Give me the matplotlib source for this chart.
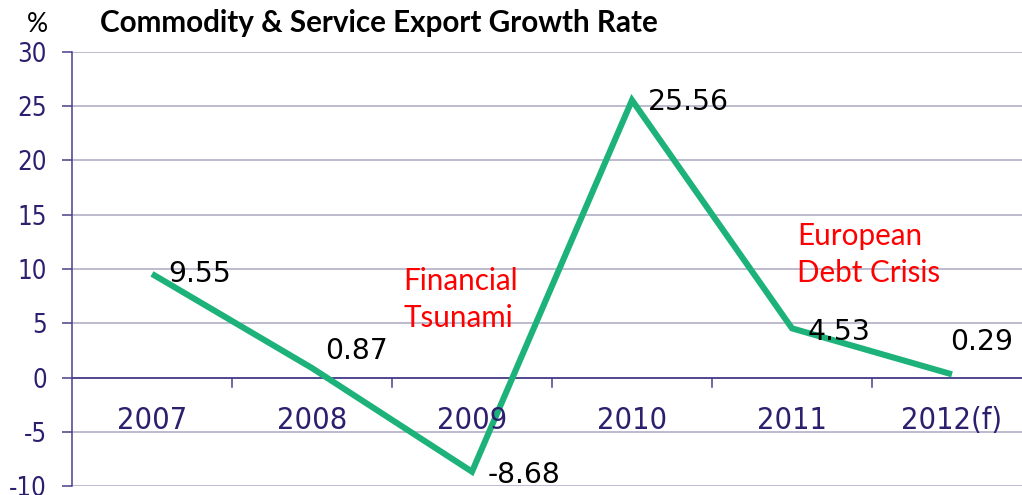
import matplotlib
matplotlib.use("Agg")
import matplotlib.pyplot as plt

years = ["2007", "2008", "2009", "2010", "2011", "2012(f)"]
growth = [9.55, 0.87, -8.68, 25.56, 4.53, 0.29]
value_labels = ["9.55", "0.87", "-8.68", "25.56", "4.53", "0.29"]
# label offsets from the point, in pixels
label_offsets = [(16, 0), (13, 17), (16, -3), (16, -2), (16, -4), (-2, 32)]

line_color = "#1DB27A"
tick_color = "#2E1F6E"
grid_color = "#B9B5CC"
axis_color = "#4A3F8A"
num_font = dict(family="DejaVu Sans", stretch="condensed")

W, H = 1022, 495
fig = plt.figure(figsize=(W / 100, H / 100), dpi=100)
ax = fig.add_axes([72 / W, 1 - 486 / H, 960 / W, 434 / H])

x = list(range(len(years)))
ax.plot(x, growth, color=line_color, linewidth=4.4, solid_capstyle="butt",
        solid_joinstyle="miter", zorder=3)

for i in x:
    dx, dy = label_offsets[i]
    ax.annotate(value_labels[i], (i, growth[i]), xytext=(dx, dy),
                textcoords="offset pixels", ha="left", va="center",
                fontsize=20.3, color="black", family="DejaVu Sans", zorder=4)

ax.set_xlim(-0.5, 5.5)
ax.set_ylim(-10, 30)
ax.set_yticks(range(-10, 31, 5))
ax.set_yticklabels([str(v) for v in range(-10, 31, 5)], **num_font)
ax.yaxis.grid(True, color=grid_color, linewidth=1.3)
ax.set_axisbelow(True)

for s in ["top", "right", "bottom"]:
    ax.spines[s].set_visible(False)
ax.spines["left"].set_color(axis_color)
ax.spines["left"].set_linewidth(1.1)
ax.tick_params(axis="y", colors=axis_color, length=7, width=1.1,
               labelsize=18.5, labelcolor=tick_color, pad=11)

# category axis drawn at zero with ticks between categories
ax.axhline(0, color=axis_color, linewidth=1.3, zorder=2)
ax.set_xticks([])
for b in range(1, len(years)):
    ax.plot([b - 0.5, b - 0.5], [0, -0.9], color=axis_color, linewidth=1.1,
            clip_on=False, zorder=2)
for i, yr in enumerate(years):
    ax.text(i, -4.0, yr, ha="center", va="center", fontsize=22,
            color=tick_color, **num_font)

ax.text(1.569, 7.2, "Financial\nTsunami", color="red", fontsize=21.3,
        family="Lato", ha="left", va="center", linespacing=1.4)
ax.text(4.03, 11.3, "European\nDebt Crisis", color="red", fontsize=21.3,
        family="Lato", ha="left", va="center", linespacing=1.4)

fig.text(100 / W, 1 - 23 / H, "Commodity & Service Export Growth Rate",
         fontsize=21.3, fontweight="bold", family="Lato", va="center", ha="left")
fig.text(27 / W, 1 - 25 / H, "%", fontsize=19, family="Lato", va="center",
         ha="left")

fig.savefig("out.png", dpi=100)
